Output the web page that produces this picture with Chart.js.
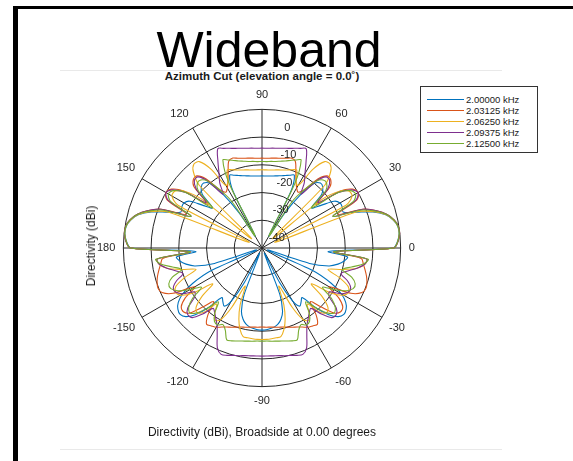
<!DOCTYPE html>
<html>
<head>
<meta charset="utf-8">
<script src="https://cdn.jsdelivr.net/npm/chart.js@4.4.1/dist/chart.umd.min.js"></script>
<style>
  html, body { margin: 0; padding: 0; background: #fff; }
  body { width: 573px; height: 461px; position: relative; overflow: hidden;
         font-family: "Liberation Sans", Arial, Helvetica, sans-serif; color: #000; }
  #frame { position: absolute; left: 13px; top: 6px; right: -20px; bottom: -20px;
           border-left: 5px solid #000; border-top: 3px solid #000; }
  .rule { position: absolute; left: 60px; width: 442px; height: 1px; background: #e9e9e9; }
  #title { position: absolute; left: 0; width: 538px; top: 25px; text-align: center;
           font-size: 50px; line-height: 50px; }
  #subtitle { position: absolute; left: 0; width: 524px; top: 70px; text-align: center;
              font-size: 11.5px; line-height: 12px; font-weight: bold; color: #1a1a1a; }
  #ylabel { position: absolute; left: 91px; top: 246px; transform: translate(-50%, -50%) rotate(-90deg);
            white-space: nowrap; font-size: 12px; color: #1a1a1a; }
  #xlabel { position: absolute; left: 0; width: 524px; top: 425px; text-align: center;
            font-size: 12px; line-height: 14px; color: #1a1a1a; }
  #legend { position: absolute; left: 420px; top: 86px; width: 116px; height: 65px;
            border: 1px solid #333; background: #fff; }
  .entry { position: absolute; left: 0; height: 11px; width: 116px; }
  .entry .sw { position: absolute; left: 6px; top: 5px; width: 37px; height: 1px; }
  .entry .tx { position: absolute; left: 45px; top: 0; font-size: 9.5px; line-height: 11px; color: #1a1a1a; white-space: nowrap; }
  #chart { position: absolute; left: 0; top: 0; }
</style>
</head>
<body>
<div id="frame"></div>
<div class="rule" style="top:70px"></div>
<div class="rule" style="top:449px"></div>
<div id="title">Wideband</div>
<div id="subtitle">Azimuth Cut (elevation angle = 0.0&#730;)</div>
<canvas id="chart" width="573" height="461"></canvas>
<div id="ylabel">Directivity (dBi)</div>
<div id="xlabel">Directivity (dBi), Broadside at 0.00 degrees</div>
<div id="legend"></div>
<script>
// Azimuth sample angles in degrees, counter-clockwise from 0 (broadside)
const azimuth = [
  0, 3, 6, 9, 12, 15, 18, 21, 24, 27, 30, 33, 36, 39, 42, 45, 48, 51, 54, 57, 60, 63, 66, 69, 72, 75, 78, 81, 84, 87,
  90, 93, 96, 99, 102, 105, 108, 111, 114, 117, 120, 123, 126, 129, 132, 135, 138, 141, 144, 147, 150, 153, 156, 159, 162, 165, 168, 171, 174, 177,
  180, 183, 186, 189, 192, 195, 198, 201, 204, 207, 210, 213, 216, 219, 222, 225, 228, 231, 234, 237, 240, 243, 246, 249, 252, 255, 258, 261, 264, 267,
  270, 273, 276, 279, 282, 285, 288, 291, 294, 297, 300, 303, 306, 309, 312, 315, 318, 321, 324, 327, 330, 333, 336, 339, 342, 345, 348, 351, 354, 357
];

// Frequencies of the five cuts
const frequencies = ['2.00000 kHz', '2.03125 kHz', '2.06250 kHz', '2.09375 kHz', '2.12500 kHz'];

// Directivity (dBi), one value per azimuth sample, split by quadrant
// 2.00000 kHz
const blueQ1 = [-2.7, -1, -0.3, -0.4, -1.6, -3.8, -8, -14, -18, -17.5, -17.5, -19, -24, -27, -21, -19, -18.5, -20, -26, -35, -45, -27, -21.3, -21.9, -22.5, -23, -23.4, -23.7, -23.9, -24, -24];
const blueQ2 = [-24, -23.9, -23.7, -23.4, -23, -22.5, -21.9, -21.3, -27, -45, -35, -26, -20, -18.5, -19, -21, -27, -24, -19, -17.5, -17.5, -18, -14, -8, -3.8, -1.6, -0.4, -0.3, -1, -2.7];
const blueQ3 = [-26, -19, -20, -22, -25, -32, -48, -30, -22, -17, -14, -12.5, -12, -13, -16, -21, -27, -26, -25, -28, -36, -48, -32, -26, -23.5, -22, -21.2, -20.8, -20.5, -20.4];
const blueQ4 = [-20.5, -20.8, -21.2, -22, -23.5, -26, -32, -48, -36, -28, -25, -26, -27, -21, -16, -13, -12, -12.5, -14, -17, -22, -30, -48, -32, -25, -22, -20, -19, -26];

// 2.03125 kHz
const orangeQ1 = [-2.5, -0.8, -0.1, -0.2, -1.3, -3.3, -6.5, -11, -20, -11.5, -10, -11, -15, -25, -17, -15, -15, -18, -24, -26, -25, -23, -20, -16.5, -15.9, -16.5, -16.9, -17.2, -17.4, -17.6, -17.6];
const orangeQ2 = [-17.6, -17.4, -17.2, -16.9, -16.5, -15.9, -16.5, -20, -23, -25, -26, -24, -18, -15, -15, -17, -25, -15, -11, -10, -11.5, -20, -11, -6.5, -3.3, -1.3, -0.2, -0.1, -0.8, -2.5];
const orangeQ3 = [-24, -14, -13, -12, -11, -10.2, -9.8, -10.5, -14, -22, -17, -14, -13.5, -15, -20, -24, -19, -16, -16.5, -17, -18, -18.8, -19.4, -20, -20.5, -20.8, -21.1, -21.3, -21.4, -21.5];
const orangeQ4 = [-21.4, -21.3, -21.1, -20.8, -20.5, -20, -19.4, -18.8, -18, -17, -16.5, -16, -19, -24, -20, -15, -13.5, -14, -17, -22, -14, -10.5, -9.8, -10.2, -11, -12, -13, -14, -24];

// 2.06250 kHz
const yellowQ1 = [-2.5, -0.9, -0.2, -0.3, -1.5, -3.6, -7.5, -14, -45, -16, -12.5, -12.5, -15, -22, -45, -18, -13, -11, -11.5, -16, -24, -23, -19.2, -19.8, -20.4, -20.9, -21.2, -21.5, -21.7, -21.8, -21.8];
const yellowQ2 = [-21.8, -21.7, -21.5, -21.2, -20.9, -20.4, -19.8, -19.2, -23, -24, -16, -11.5, -11, -13, -18, -45, -22, -15, -12.5, -12.5, -16, -45, -14, -7.5, -3.6, -1.5, -0.3, -0.2, -0.9, -2.5];
const yellowQ3 = [-24, -12, -12.5, -15, -20, -25, -20, -16, -15, -16, -20, -28, -22, -18, -17, -19, -24, -21, -19, -20, -26, -35, -28, -23, -19.5, -17.3, -17.2, -17.1, -17, -17];
const yellowQ4 = [-17, -17.1, -17.2, -17.3, -19.5, -23, -28, -35, -26, -20, -19, -21, -24, -19, -17, -18, -22, -28, -20, -16, -15, -16, -20, -25, -20, -15, -12.5, -12, -24];

// 2.09375 kHz
const purpleQ1 = [-2.5, -0.8, -0.1, -0.2, -1.3, -3.3, -6.5, -11, -22, -12, -10, -11.5, -16, -24, -18, -15.5, -15.5, -19, -26, -22, -19, -15, -10.8, -11.5, -12.2, -12.8, -13.2, -13.6, -13.8, -14, -14];
const purpleQ2 = [-14, -13.8, -13.6, -13.2, -12.8, -12.2, -11.5, -10.8, -15, -19, -22, -26, -19, -15.5, -15.5, -18, -24, -16, -11.5, -10, -12, -22, -11, -6.5, -3.3, -1.3, -0.2, -0.1, -0.8, -2.5];
const purpleQ3 = [-24, -12, -12.5, -15, -18, -20, -17, -15, -15, -17, -21, -20, -15.5, -14, -14.5, -18, -22, -21, -19.5, -17.6, -14.4, -10.5, -8.9, -9.3, -9.9, -10.3, -10.7, -10.9, -11, -11];
const purpleQ4 = [-11, -10.9, -10.7, -10.3, -9.9, -9.3, -8.9, -10.5, -14.4, -17.6, -19.5, -21, -22, -18, -14.5, -14, -15.5, -20, -21, -17, -15, -15, -17, -20, -18, -15, -12.5, -12, -24];

// 2.12500 kHz
const greenQ1 = [-2.5, -0.9, -0.2, -0.3, -1.4, -3.4, -7, -12, -22, -13, -11, -12, -16, -27, -19, -17, -17, -19, -24, -30, -45, -24, -15.3, -16, -16.8, -17.5, -18, -18.4, -18.6, -18.8, -18.8];
const greenQ2 = [-18.8, -18.6, -18.4, -18, -17.5, -16.8, -16, -15.3, -24, -45, -30, -24, -19, -17, -17, -19, -27, -16, -12, -11, -13, -22, -12, -7, -3.4, -1.4, -0.3, -0.2, -0.9, -2.5];
const greenQ3 = [-24, -11.5, -13, -17, -20, -16, -14, -14, -16, -20, -24, -19, -16, -15, -17, -21, -25, -21, -18.5, -18, -19, -17.5, -14.5, -14.8, -15.3, -15.7, -16, -16.2, -16.4, -16.4];
const greenQ4 = [-16.4, -16.2, -16, -15.7, -15.3, -14.8, -14.5, -17.5, -19, -18, -18.5, -21, -25, -21, -17, -15, -16, -19, -24, -20, -16, -14, -14, -16, -20, -17, -13, -11.5, -24];

// Radial tick values (dBi) and angular labels every 30 degrees
const radialTicks = [0, -10, -20, -30, -40];
const angleTicks = [90, 60, 30, 0, -30, -60, -90, -120, -150, 180, 150, 120];

const seriesValues = [
  [...blueQ1, ...blueQ2, ...blueQ3, ...blueQ4],
  [...orangeQ1, ...orangeQ2, ...orangeQ3, ...orangeQ4],
  [...yellowQ1, ...yellowQ2, ...yellowQ3, ...yellowQ4],
  [...purpleQ1, ...purpleQ2, ...purpleQ3, ...purpleQ4],
  [...greenQ1, ...greenQ2, ...greenQ3, ...greenQ4]
];
const seriesColors = ['#0072BD', '#D95319', '#EDB120', '#7E2F8E', '#77AC30'];

// The radar scale runs clockwise from the top, so walk the azimuths from 90 deg downwards
const step = azimuth[1] - azimuth[0];
const order = azimuth.map((_, k) => {
  const a = ((90 - step * k) % 360 + 360) % 360;
  return azimuth.indexOf(a);
});
const labels = order.map(i => {
  const a = azimuth[i];
  return a > 180 ? a - 360 : a;
});

const datasets = seriesValues.map((vals, s) => ({
  label: frequencies[s],
  data: order.map(i => vals[i]),
  borderColor: seriesColors[s],
  backgroundColor: 'transparent',
  borderWidth: 1.1,
  fill: false,
  pointRadius: 0,
  pointHoverRadius: 0,
  tension: 0.3,
  order: seriesValues.length - s
}));

// Radial tick labels beside the 82-degree ray, just inside each ring
const radialTickLabels = {
  id: 'radialTickLabels',
  afterDatasetsDraw(chart) {
    const s = chart.scales.r;
    const ctx = chart.ctx;
    const a = 82 * Math.PI / 180;
    ctx.save();
    ctx.font = '11px "Liberation Sans", Arial, sans-serif';
    ctx.fillStyle = '#262626';
    ctx.textAlign = 'left';
    ctx.textBaseline = 'middle';
    radialTicks.forEach(v => {
      const d = s.getDistanceFromCenterForValue(v);
      const x = s.xCenter + d * Math.cos(a);
      const y = s.yCenter - d * Math.sin(a);
      ctx.fillText(String(v), x + 3, y + 17);
    });
    ctx.restore();
  }
};

new Chart(document.getElementById('chart'), {
  type: 'radar',
  data: { labels, datasets },
  options: {
    responsive: false,
    animation: false,
    events: [],
    layout: { padding: { left: 91, right: 151, top: 83, bottom: 47 } },
    plugins: { legend: { display: false }, tooltip: { enabled: false } },
    scales: {
      r: {
        min: -50,
        max: 0,
        startAngle: 0,
        ticks: { display: false, stepSize: 10 },
        grid: { circular: true, color: '#262626', lineWidth: 1 },
        angleLines: {
          display: true,
          lineWidth: 1,
          color: ctx => angleTicks.includes(labels[ctx.index]) ? '#262626' : 'rgba(0,0,0,0)'
        },
        pointLabels: {
          display: true,
          padding: 8,
          color: '#262626',
          font: { family: '"Liberation Sans", Arial, sans-serif', size: 11 },
          callback: (lbl) => angleTicks.includes(lbl) ? String(lbl) : ''
        }
      }
    }
  },
  plugins: [radialTickLabels]
});

// Legend box
const legend = document.getElementById('legend');
frequencies.forEach((f, s) => {
  const row = document.createElement('div');
  row.className = 'entry';
  row.style.top = (7 + 11 * s) + 'px';
  row.innerHTML = '<div class="sw" style="background:' + seriesColors[s] + '"></div><div class="tx">' + f + '</div>';
  legend.appendChild(row);
});
</script>
</body>
</html>
